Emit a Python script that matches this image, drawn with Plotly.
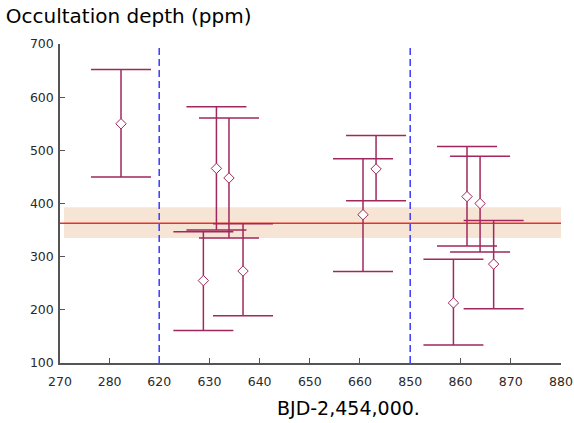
import plotly.graph_objects as go

# ---- data ----
seg1_x = [282.3]
seg1_y = [550]
seg1_hi = [652]
seg1_lo = [450]

seg2_x = [628.8, 631.4, 633.9, 636.7, 660.6, 663.2]
seg2_y = [255, 466, 448, 273, 379, 465]
seg2_hi = [347, 582, 561, 362, 484, 528]
seg2_lo = [161, 350, 335, 189, 272, 405]

seg3_x = [858.6, 861.3, 863.9, 866.6]
seg3_y = [213, 413, 400, 286]
seg3_hi = [295, 507, 489, 368]
seg3_lo = [134, 320, 309, 202]

mean_depth = 363
mean_lo = 335
mean_hi = 393

seg_ranges = [[270, 290], [620, 670], [850, 880]]
seg_ticks = [[270, 280], [620, 630, 640, 650, 660], [850, 860, 870, 880]]
y_ticks = [100, 200, 300, 400, 500, 600, 700]

# axis-break positions (fractions of the plot width)
breaks = [0.198, 0.699]

ERR = "#a0285e"
FONT = "DejaVu Sans"

fig = go.Figure()

segments = [
    (seg1_x, seg1_y, seg1_hi, seg1_lo, "x"),
    (seg2_x, seg2_y, seg2_hi, seg2_lo, "x2"),
    (seg3_x, seg3_y, seg3_hi, seg3_lo, "x3"),
]
for xs, ys, hi, lo, xa in segments:
    fig.add_trace(go.Scatter(
        x=xs, y=ys, xaxis=xa, yaxis="y", mode="markers",
        marker=dict(symbol="diamond", size=8, color="white",
                    line=dict(color=ERR, width=1)),
        error_y=dict(type="data", symmetric=False,
                     array=[h - v for h, v in zip(hi, ys)],
                     arrayminus=[v - l for l, v in zip(lo, ys)],
                     color=ERR, thickness=1.5, width=30),
        showlegend=False, hoverinfo="skip",
    ))

# mean band and line
fig.add_shape(type="rect", xref="paper", x0=0.008, x1=1.0, yref="y",
              y0=mean_lo, y1=mean_hi, fillcolor="#f6e4d4",
              line=dict(width=0), layer="below")
fig.add_shape(type="line", xref="paper", x0=0, x1=1.0, yref="y",
              y0=mean_depth, y1=mean_depth,
              line=dict(color="#e8302c", width=1.5), layer="below")

# axis break markers
for b in breaks:
    fig.add_shape(type="line", xref="paper", x0=b, x1=b,
                  yref="paper", y0=0, y1=1,
                  line=dict(color="#3a3aff", width=1.5, dash="7px,4px"))

tickfont = dict(family=FONT, size=12.5, color="#2a2a2a")
common_x = dict(showline=True, linecolor="#555555", linewidth=1.5,
                ticks="inside", ticklen=5, tickcolor="#555555", tickwidth=1,
                showgrid=False, zeroline=False, tickfont=tickfont,
                anchor="y", ticklabelstandoff=6, automargin=False)

fig.update_layout(
    width=574, height=423,
    margin=dict(l=60, r=13, t=44, b=60, autoexpand=False),
    paper_bgcolor="white", plot_bgcolor="white",
    title=dict(text="Occultation depth (ppm)", x=0.01, xanchor="left",
               xref="container", y=0.962, yref="container", yanchor="middle",
               pad=dict(t=0, b=0, l=0, r=0),
               font=dict(family=FONT, size=20, color="black")),
    xaxis=dict(domain=[0, breaks[0]], range=seg_ranges[0], tickvals=seg_ticks[0], **common_x),
    xaxis2=dict(domain=[breaks[0], breaks[1]], range=seg_ranges[1], tickvals=seg_ticks[1], **common_x),
    xaxis3=dict(domain=[breaks[1], 1.0], range=seg_ranges[2], tickvals=seg_ticks[2], **common_x),
    yaxis=dict(range=[100, 700], tickvals=y_ticks, showline=True,
               linecolor="#555555", linewidth=1.5, ticks="inside", ticklen=5,
               tickcolor="#555555", tickwidth=1, showgrid=False, zeroline=False,
               tickfont=tickfont, ticklabelstandoff=2, automargin=False),
    annotations=[dict(text="BJD-2,454,000.", xref="paper", yref="paper",
                      x=0.575, y=-0.141, xanchor="center", yanchor="middle",
                      showarrow=False,
                      font=dict(family=FONT, size=19, color="black"))],
)

fig.write_html("out.html", config={"displayModeBar": False},
               post_script="document.body.style.margin='0';document.body.style.overflow='hidden';")
